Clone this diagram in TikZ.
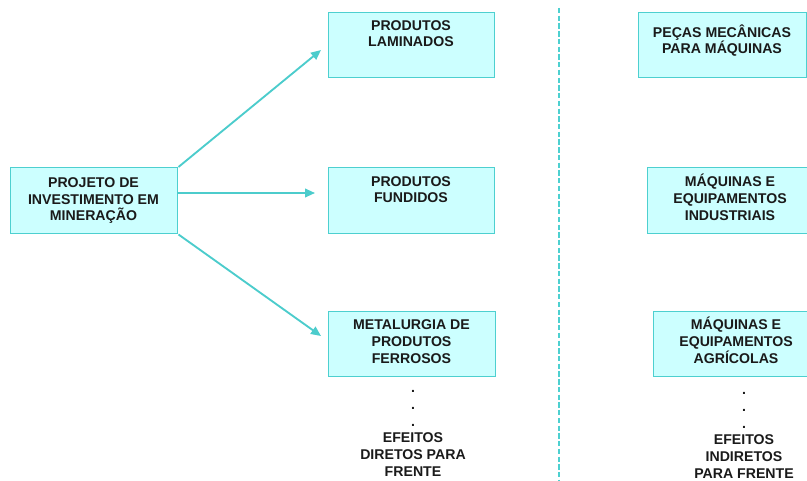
\documentclass[tikz,border=0pt]{standalone}
\usepackage{fontspec}
\setmainfont{Liberation Sans}
\usetikzlibrary{arrows.meta}
\definecolor{boxfill}{HTML}{CCFFFF}
\definecolor{boxline}{HTML}{4DD0D0}
\definecolor{arrowc}{HTML}{4CCCCC}
\definecolor{txtc}{HTML}{1A1A1A}
\tikzset{
  box/.style={draw=boxline, fill=boxfill, line width=1.1pt, inner sep=0pt, anchor=north west},
  txt/.style={align=center, font=\fontsize{10.6}{12.5}\selectfont\bfseries, text=txtc, inner sep=0pt, anchor=base},
  conn/.style={draw=arrowc, line width=1.4pt, -{Triangle[length=7.5pt,width=6.5pt]}},
  divider/.style={draw=boxline, line width=0.8pt, dash pattern=on 4pt off 1.8pt}
}
\begin{document}
\begin{tikzpicture}[x=0.75pt,y=-0.75pt]
\useasboundingbox (0,0) rectangle (807,481);
% boxes
\node[box, minimum width=167*0.75pt, minimum height=66*0.75pt] (proj) at (10,167) {};
\node[box, minimum width=166*0.75pt, minimum height=65*0.75pt] (lam) at (328,12) {};
\node[box, minimum width=166*0.75pt, minimum height=66*0.75pt] (fund) at (328,167) {};
\node[box, minimum width=167*0.75pt, minimum height=65*0.75pt] (fer) at (328,311) {};
\node[box, minimum width=168*0.75pt, minimum height=65*0.75pt] (pecas) at (638,12) {};
\node[box, minimum width=165*0.75pt, minimum height=66*0.75pt] (ind) at (647,167) {};
\node[box, minimum width=160*0.75pt, minimum height=65*0.75pt] (agr) at (653,311) {};
% texts (anchored at the baseline of the last line)
\node[txt] (projt) at (93.5,221) {PROJETO DE\\INVESTIMENTO EM\\MINERAÇÃO};
\node[txt] (lamt) at (411,47) {PRODUTOS\\LAMINADOS};
\node[txt] (fundt) at (411,203) {PRODUTOS\\FUNDIDOS};
\node[txt] (fert) at (411.5,363) {METALURGIA DE\\PRODUTOS\\FERROSOS};
\node[txt] (pecast) at (722,54) {PEÇAS MECÂNICAS\\PARA MÁQUINAS};
\node[txt] (indt) at (730,220) {MÁQUINAS E\\EQUIPAMENTOS\\INDUSTRIAIS};
\node[txt] (agrt) at (736,363) {MÁQUINAS E\\EQUIPAMENTOS\\AGRÍCOLAS};
\node[txt] (dir) at (413,476) {.\\.\\.\\EFEITOS\\DIRETOS PARA\\FRENTE};
\node[txt] (indir) at (744,478) {.\\.\\.\\EFEITOS\\INDIRETOS\\PARA FRENTE};
% connectors
\coordinate (e1) at (321,50);
\coordinate (e2) at (315,193);
\coordinate (e3) at (321,336);
\coordinate (s2) at (177,193);
\draw[conn] (proj.north east) -- (e1);
\draw[conn] (s2) -- (e2);
\draw[conn] (proj.south east) -- (e3);
% divider
\coordinate (d1) at (559,8);
\coordinate (d2) at (559,481);
\draw[divider] (d1) -- (d2);
\end{tikzpicture}
\end{document}
